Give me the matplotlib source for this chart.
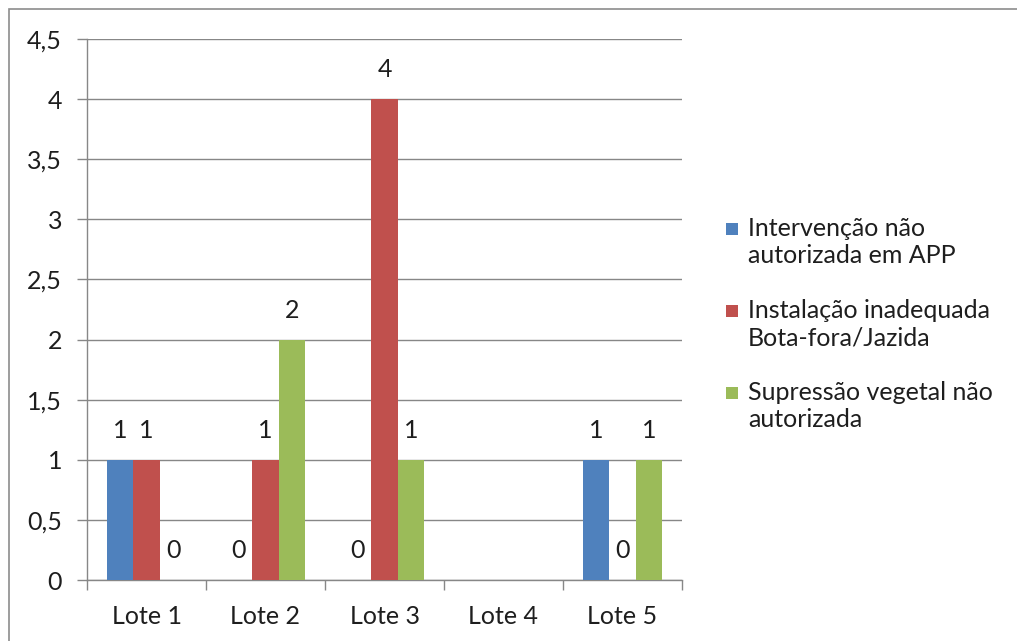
import numpy as np
import matplotlib
matplotlib.use("Agg")
import matplotlib.pyplot as plt
from matplotlib.patches import Rectangle
from matplotlib.ticker import FixedLocator, FuncFormatter

plt.rcParams['font.family'] = ['Lato', 'DejaVu Sans']

categories = ["Lote 1", "Lote 2", "Lote 3", "Lote 4", "Lote 5"]
series_names = ["Intervenção não\nautorizada em APP",
                "Instalação inadequada\nBota-fora/Jazida",
                "Supressão vegetal não\nautorizada"]
intervencao = [1, 0, 0, np.nan, 1]
instalacao = [1, 1, 4, np.nan, 0]
supressao = [0, 2, 1, np.nan, 1]
series_values = [intervencao, instalacao, supressao]
colors = ["#4F81BD", "#C0504D", "#9BBB59"]
y_ticks = [0, 0.5, 1, 1.5, 2, 2.5, 3, 3.5, 4, 4.5]

W, H = 1017, 641
FS = 18
text_color = "#1e1e1e"
fig = plt.figure(figsize=(W / 100, H / 100), dpi=100)
ax = fig.add_axes([87 / W, 1 - 580 / H, (682 - 87) / W, (580 - 39) / H])

# chart frame (top and left edges visible)
fig.add_artist(Rectangle((9 / W, -0.1), 1.2, 1 - 9 / H + 0.1,
                         transform=fig.transFigure, fill=False,
                         edgecolor="#8c8c8c", linewidth=1.2))

x = np.arange(len(categories))
bw = 0.224
grid_color = "#878787"
for i, (vals, col, name) in enumerate(zip(series_values, colors, series_names)):
    offs = (i - 1) * bw
    v = np.array(vals, dtype=float)
    ax.bar(x + offs, np.nan_to_num(v), width=bw, color=col, label=name, zorder=3)
    for xi, val in zip(x, v):
        if np.isnan(val):
            continue
        ax.text(xi + offs, val + 0.245, f"{int(val)}", ha="center", va="center",
                fontsize=FS, color=text_color, zorder=4)

ax.set_xlim(-0.5, len(categories) - 0.5)
ax.set_ylim(0, 4.5)
ax.yaxis.set_major_locator(FixedLocator(y_ticks))
ax.yaxis.set_major_formatter(FuncFormatter(lambda v, p: f"{v:g}".replace(".", ",")))
ax.grid(axis="y", color=grid_color, linewidth=1, zorder=0)
ax.set_axisbelow(True)

ax.set_xticks(x)
ax.set_xticklabels(categories)
ax.set_xticks(np.arange(-0.5, len(categories)), minor=True)
ax.tick_params(axis="x", which="major", length=0, pad=18, labelsize=FS, labelcolor=text_color)
ax.tick_params(axis="x", which="minor", length=7, color=grid_color, width=1)
ax.tick_params(axis="y", length=7, color=grid_color, width=1, pad=11,
               labelsize=FS, labelcolor=text_color)

for s in ["top", "right"]:
    ax.spines[s].set_visible(False)
for s in ["left", "bottom"]:
    ax.spines[s].set_color(grid_color)
    ax.spines[s].set_linewidth(1)

# legend: square key beside the first line of each entry
sq = 12
for i, (name, col) in enumerate(zip(series_names, colors)):
    y_first = 229 + 82 * i
    fig.add_artist(Rectangle((726 / W, 1 - (y_first + sq / 2) / H), sq / W, sq / H,
                             transform=fig.transFigure, facecolor=col, edgecolor="none"))
    for j, line in enumerate(name.split("\n")):
        fig.text(748 / W, 1 - (y_first + 7 + 27 * j) / H, line, ha="left",
                 va="baseline", fontsize=FS, color=text_color)

fig.savefig("out.png", dpi=100, facecolor="white")
